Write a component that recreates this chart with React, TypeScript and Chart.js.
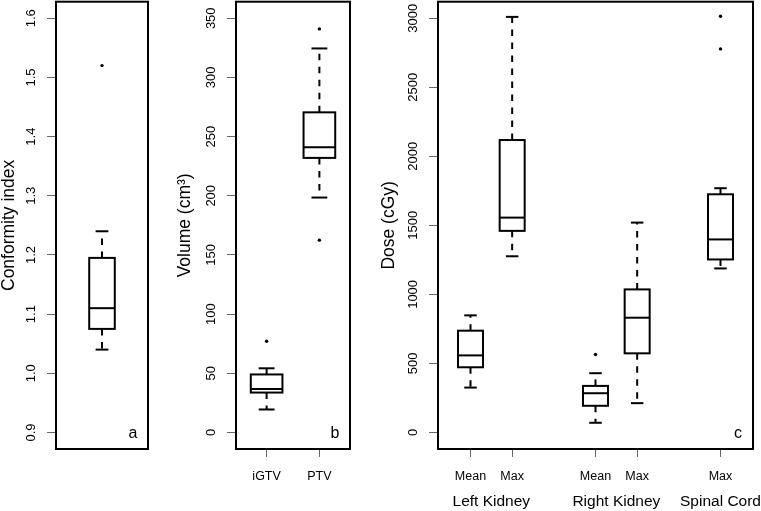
import React, { useEffect, useRef } from 'react';
import { Chart, registerables } from 'chart.js';

Chart.register(...registerables);

const FONT = "'Liberation Sans', Arial, Helvetica, sans-serif";

// ---------- Panel a: Conformity index ----------
const ciTicks = [0.9, 1.0, 1.1, 1.2, 1.3, 1.4, 1.5, 1.6];
const ciTickLabels = ['0.9', '1.0', '1.1', '1.2', '1.3', '1.4', '1.5', '1.6'];
const ciPositions = [1];
const ciLow = [1.04];
const ciQ1 = [1.075];
const ciMedian = [1.11];
const ciQ3 = [1.195];
const ciHigh = [1.24];
const ciOutliers = [[1.52]];

// ---------- Panel b: Volume ----------
const volCategories = ['iGTV', 'PTV'];
const volPositions = [1, 2];
const volTicks = [0, 50, 100, 150, 200, 250, 300, 350];
const volTickLabels = ['0', '50', '100', '150', '200', '250', '300', '350'];
const volLow = [19.4, 198.5];
const volQ1 = [33.7, 232];
const volMedian = [36.6, 241];
const volQ3 = [49, 270.5];
const volHigh = [54.2, 324.5];
const volOutliers = [[77], [341, 162.5]];

// ---------- Panel c: Dose ----------
const doseCategories = ['Mean', 'Max', 'Mean', 'Max', 'Max'];
const dosePositions = [1, 2, 4, 5, 7];
const doseGroups = ['Left Kidney', 'Right Kidney', 'Spinal Cord'];
const doseGroupCenters = [1.5, 4.5, 7];
const doseTicks = [0, 500, 1000, 1500, 2000, 2500, 3000];
const doseTickLabels = ['0', '500', '1000', '1500', '2000', '2500', '3000'];
const doseLow = [325, 1276, 70, 212, 1188];
const doseQ1 = [472, 1460, 193, 573, 1253];
const doseMedian = [558, 1556, 284, 831, 1398];
const doseQ3 = [737, 2118, 337, 1036, 1725];
const doseHigh = [848, 3010, 429, 1520, 1769];
const doseOutliers = [[], [], [564], [], [3015, 2778]];

type Spec = {
  left: number;
  width: number;
  yAxisWidth: number;
  rightPad: number;
  xMin: number;
  xMax: number;
  yMin: number;
  yMax: number;
  yTicks: number[];
  yTickLabels: string[];
  xTicks: number[];
  xTickLabels: string[];
  positions: number[];
  low: number[];
  q1: number[];
  median: number[];
  q3: number[];
  high: number[];
  outliers: number[][];
  boxWidth: number;
  title: string;
  letter: string;
  groups?: string[];
  groupCenters?: number[];
};

const specs: Spec[] = [
  {
    left: 0, width: 156, yAxisWidth: 56, rightPad: 8,
    xMin: 0.46, xMax: 1.54, yMin: 0.872, yMax: 1.628,
    yTicks: ciTicks, yTickLabels: ciTickLabels, xTicks: [], xTickLabels: [],
    positions: ciPositions, low: ciLow, q1: ciQ1, median: ciMedian, q3: ciQ3, high: ciHigh,
    outliers: ciOutliers, boxWidth: 0.3, title: 'Conformity index', letter: 'a',
  },
  {
    left: 176, width: 184, yAxisWidth: 60, rightPad: 10,
    xMin: 0.42, xMax: 2.58, yMin: -14, yMax: 364,
    yTicks: volTicks, yTickLabels: volTickLabels, xTicks: volPositions, xTickLabels: volCategories,
    positions: volPositions, low: volLow, q1: volQ1, median: volMedian, q3: volQ3, high: volHigh,
    outliers: volOutliers, boxWidth: 0.6, title: 'Volume (cm³)', letter: 'b',
  },
  {
    left: 380, width: 381, yAxisWidth: 58, rightPad: 8,
    xMin: 0.22, xMax: 7.78, yMin: -120, yMax: 3120,
    yTicks: doseTicks, yTickLabels: doseTickLabels, xTicks: dosePositions, xTickLabels: doseCategories,
    positions: dosePositions, low: doseLow, q1: doseQ1, median: doseMedian, q3: doseQ3, high: doseHigh,
    outliers: doseOutliers, boxWidth: 0.6, title: 'Dose (cGy)', letter: 'c',
    groups: doseGroups, groupCenters: doseGroupCenters,
  },
];

const HEIGHT = 511;
const X_AXIS_HEIGHT = 62;

function makePlugin(spec: Spec) {
  const line = (ctx: CanvasRenderingContext2D, x1: number, y1: number, x2: number, y2: number) => {
    ctx.beginPath();
    ctx.moveTo(x1, y1);
    ctx.lineTo(x2, y2);
    ctx.stroke();
  };
  return {
    id: 'rbox' + spec.letter,
    beforeDatasetsDraw(chart: any) {
      const ctx: CanvasRenderingContext2D = chart.ctx;
      const xs = chart.scales.x;
      const ys = chart.scales.y;
      ctx.save();
      ctx.strokeStyle = '#000';
      ctx.lineWidth = 2;
      spec.positions.forEach((p, i) => {
        const cx = xs.getPixelForValue(p);
        const hw = xs.getPixelForValue(p + spec.boxWidth / 2) - cx;
        const yLo = ys.getPixelForValue(spec.low[i]);
        const yQ1 = ys.getPixelForValue(spec.q1[i]);
        const yMed = ys.getPixelForValue(spec.median[i]);
        const yQ3 = ys.getPixelForValue(spec.q3[i]);
        const yHi = ys.getPixelForValue(spec.high[i]);
        ctx.setLineDash([6.5, 6.5]);
        line(ctx, cx, yQ3, cx, yHi);
        line(ctx, cx, yQ1, cx, yLo);
        ctx.setLineDash([]);
        line(ctx, cx - hw / 2, yHi, cx + hw / 2, yHi);
        line(ctx, cx - hw / 2, yLo, cx + hw / 2, yLo);
        ctx.strokeRect(cx - hw, yQ3, 2 * hw, yQ1 - yQ3);
        line(ctx, cx - hw, yMed, cx + hw, yMed);
      });
      ctx.restore();
    },
    afterDraw(chart: any) {
      const ctx: CanvasRenderingContext2D = chart.ctx;
      const area = chart.chartArea;
      const xs = chart.scales.x;
      const ys = chart.scales.y;
      ctx.save();
      // frame
      ctx.strokeStyle = '#000';
      ctx.lineWidth = 2;
      ctx.strokeRect(area.left, area.top, area.right - area.left, area.bottom - area.top);
      // y tick labels (parallel to axis)
      ctx.fillStyle = '#000';
      ctx.font = `13px ${FONT}`;
      ctx.textAlign = 'center';
      ctx.textBaseline = 'middle';
      ys.ticks.forEach((t: any, i: number) => {
        const y = ys.getPixelForValue(t.value);
        ctx.save();
        ctx.translate(area.left - 24.5, y);
        ctx.rotate(-Math.PI / 2);
        ctx.fillText(spec.yTickLabels[i], 0, 0);
        ctx.restore();
      });
      // panel letter
      ctx.font = `16px ${FONT}`;
      ctx.textBaseline = 'alphabetic';
      ctx.fillText(spec.letter, area.right - 15, area.bottom - 11.5);
      // group labels
      if (spec.groups && spec.groupCenters) {
        ctx.font = `15.5px ${FONT}`;
        spec.groups.forEach((g, i) => {
          ctx.fillText(g, xs.getPixelForValue(spec.groupCenters![i]), area.bottom + 56.5);
        });
      }
      ctx.restore();
    },
  };
}

function Panel({ spec }: { spec: Spec }) {
  const ref = useRef<HTMLCanvasElement | null>(null);
  useEffect(() => {
    if (!ref.current) return;
    const points: { x: number; y: number }[] = [];
    spec.outliers.forEach((arr, i) => arr.forEach((v) => points.push({ x: spec.positions[i], y: v })));
    const hasX = spec.xTicks.length > 0;
    const chart = new Chart(ref.current, {
      type: 'scatter',
      data: {
        datasets: [
          {
            data: points,
            pointRadius: 1.7,
            pointHoverRadius: 1.7,
            pointBackgroundColor: '#000',
            pointBorderWidth: 0,
            showLine: false,
          },
        ],
      },
      options: {
        animation: false,
        responsive: false,
        maintainAspectRatio: false,
        events: [],
        layout: { padding: { left: 0, right: spec.rightPad, top: 1, bottom: 0 } },
        plugins: { legend: { display: false }, tooltip: { enabled: false }, title: { display: false } },
        scales: {
          x: {
            type: 'linear',
            position: 'bottom',
            min: spec.xMin,
            max: spec.xMax,
            afterBuildTicks: (s: any) => {
              s.ticks = spec.xTicks.map((v) => ({ value: v }));
            },
            afterFit: (s: any) => {
              s.height = X_AXIS_HEIGHT;
            },
            ticks: {
              display: hasX,
              autoSkip: false,
              maxRotation: 0,
              minRotation: 0,
              padding: 12,
              color: '#000',
              font: { family: FONT, size: 12.5 },
              callback: (_v: any, i: number) => spec.xTickLabels[i],
            },
            grid: {
              display: hasX,
              drawOnChartArea: false,
              drawTicks: true,
              tickLength: 8,
              color: '#666',
              lineWidth: 1,
            },
            border: { display: false },
          },
          y: {
            type: 'linear',
            position: 'left',
            min: spec.yMin,
            max: spec.yMax,
            afterBuildTicks: (s: any) => {
              s.ticks = spec.yTicks.map((v) => ({ value: v }));
            },
            afterFit: (s: any) => {
              s.width = spec.yAxisWidth;
            },
            ticks: { display: false },
            grid: {
              drawOnChartArea: false,
              drawTicks: true,
              tickLength: 9,
              color: '#666',
              lineWidth: 1,
            },
            border: { display: false },
            title: {
              display: true,
              text: spec.title,
              color: '#000',
              font: { family: FONT, size: 17.5, lineHeight: 1 },
              padding: { top: 0, bottom: 0 },
            },
          },
        },
      },
      plugins: [makePlugin(spec)],
    } as any);
    return () => chart.destroy();
  }, [spec]);
  return (
    <canvas
      ref={ref}
      width={spec.width}
      height={HEIGHT}
      style={{ position: 'absolute', left: spec.left, top: 0, width: spec.width, height: HEIGHT }}
    />
  );
}

export default function App() {
  return (
    <div
      style={{
        position: 'fixed',
        left: 0,
        top: 0,
        width: 761,
        height: HEIGHT,
        background: '#fff',
        overflow: 'hidden',
      }}
    >
      {specs.map((s) => (
        <Panel key={s.letter} spec={s} />
      ))}
    </div>
  );
}
